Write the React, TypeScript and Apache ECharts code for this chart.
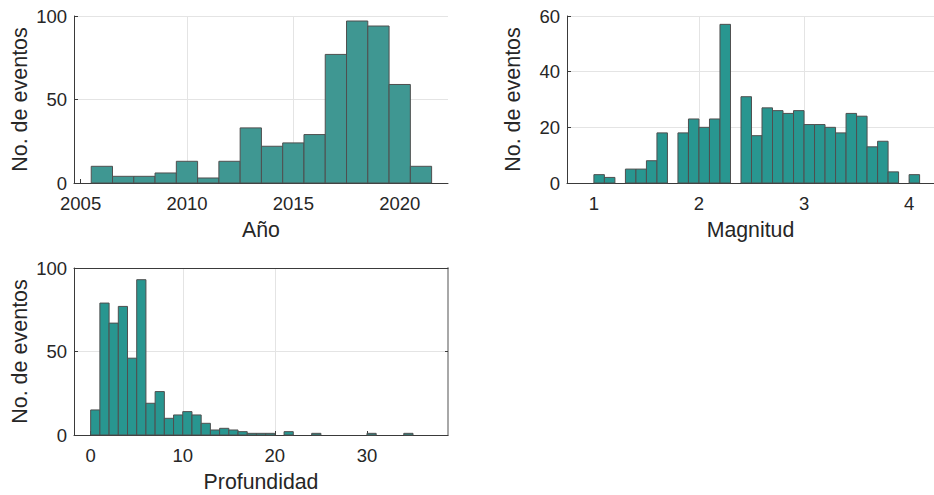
import React, { useEffect, useRef } from "react";
import * as echarts from "echarts";

// Año histogram (bin width 1, left edges)
const yearBinLeft = [2005.5, 2006.5, 2007.5, 2008.5, 2009.5, 2010.5, 2011.5, 2012.5, 2013.5, 2014.5, 2015.5, 2016.5, 2017.5, 2018.5, 2019.5, 2020.5];
const yearCounts = [10, 4, 4, 6, 13, 3, 13, 33, 22, 24, 29, 77, 97, 94, 59, 10];
const yearBinWidth = 1;

// Magnitud histogram (bin width 0.1, left edges)
const magBinLeft = [1.0, 1.1, 1.2, 1.3, 1.4, 1.5, 1.6, 1.7, 1.8, 1.9, 2.0, 2.1, 2.2, 2.3, 2.4, 2.5, 2.6, 2.7, 2.8, 2.9, 3.0, 3.1, 3.2, 3.3, 3.4, 3.5, 3.6, 3.7, 3.8, 3.9, 4.0];
const magCounts = [3, 2, 0, 5, 5, 8, 18, 0, 18, 23, 20, 23, 57, 0, 31, 17, 27, 26, 25, 26, 21, 21, 20, 18, 25, 24, 13, 15, 4, 0, 3];
const magBinWidth = 0.1;

// Profundidad histogram (bin width 1, left edges)
const depthBinLeft = [0, 1, 2, 3, 4, 5, 6, 7, 8, 9, 10, 11, 12, 13, 14, 15, 16, 17, 18, 19, 20, 21, 22, 23, 24, 25, 26, 27, 28, 29, 30, 31, 32, 33, 34];
const depthCounts = [15, 79, 67, 77, 46, 93, 19, 26, 10, 12, 14, 12, 7, 3, 4, 3, 2, 1, 1, 1, 0, 2, 0, 0, 1, 0, 0, 0, 0, 0, 1, 0, 0, 0, 1];
const depthBinWidth = 1;

// Tick labels
const yearTicks = [2005, 2010, 2015, 2020];
const magTicks = [1, 2, 3, 4];
const depthTicks = [0, 10, 20, 30];

const FONT = "'Liberation Sans', Arial, Helvetica, sans-serif";
const TXT = "#262626";
const AX = "#3a3a3a";
const GRIDC = "#e4e4e4";

function binsData(left: number[], counts: number[], w: number) {
  const out: number[][] = [];
  left.forEach((l, i) => {
    if (counts[i] > 0) out.push([l, l + w, counts[i]]);
  });
  return out;
}

function histSeries(idx: number, data: number[][], fill: string) {
  return {
    type: "custom",
    xAxisIndex: idx,
    yAxisIndex: idx,
    encode: { x: [0, 1], y: 2 },
    data,
    renderItem: (params: any, api: any) => {
      const p0 = api.coord([api.value(0), 0]);
      const p1 = api.coord([api.value(1), api.value(2)]);
      return {
        type: "rect",
        shape: { x: p0[0], y: p1[1], width: p1[0] - p0[0], height: p0[1] - p1[1] },
        style: { fill, stroke: "#4f4f4f", lineWidth: 1 },
      };
    },
  };
}

function xAxisCfg(idx: number, min: number, max: number, step: number, ticks: number[], name: string) {
  return {
    type: "value",
    gridIndex: idx,
    min,
    max,
    minInterval: step,
    maxInterval: step,
    name,
    nameLocation: "middle",
    nameGap: 36,
    nameTextStyle: { color: TXT, fontSize: 21.3, fontFamily: FONT },
    axisLine: { show: true, onZero: false, lineStyle: { color: AX, width: 1 } },
    axisTick: { show: true, inside: true, length: 4, customValues: ticks, lineStyle: { color: AX } },
    axisLabel: {
      color: TXT,
      fontSize: 18.5,
      fontFamily: FONT,
      margin: 11,
      customValues: ticks,
      formatter: (v: number) => String(v),
    },
    splitLine: { show: true, showMinLine: false, showMaxLine: false, lineStyle: { color: GRIDC, width: 1 } },
  };
}

function yAxisCfg(idx: number, max: number, step: number) {
  return {
    type: "value",
    gridIndex: idx,
    min: 0,
    max,
    interval: step,
    name: "No. de eventos",
    nameLocation: "middle",
    nameGap: 43,
    nameRotate: 90,
    nameTextStyle: { color: TXT, fontSize: 21.5, fontFamily: FONT },
    axisLine: { show: true, onZero: false, lineStyle: { color: AX, width: 1 } },
    axisTick: { show: true, inside: true, length: 4, lineStyle: { color: AX } },
    axisLabel: { color: TXT, fontSize: 18.5, fontFamily: FONT, margin: 7 },
    splitLine: { show: true, lineStyle: { color: GRIDC, width: 1 } },
  };
}

export default function App() {
  const ref = useRef<HTMLDivElement>(null);
  useEffect(() => {
    document.body.style.margin = "0";
    if (!ref.current) return;
    const chart = echarts.init(ref.current, null, { renderer: "svg" });
    const option: any = {
      animation: false,
      backgroundColor: "#ffffff",
      grid: [
        { left: 74, top: 16, width: 374, height: 167 },
        { left: 567, top: 16, width: 372, height: 167 },
        { left: 74, top: 268, width: 374, height: 167 },
      ],
      xAxis: [
        xAxisCfg(0, 2004.69, 2022.27, 5, yearTicks, "Año"),
        xAxisCfg(1, 0.744, 4.237, 1, magTicks, "Magnitud"),
        xAxisCfg(2, -1.81, 38.8, 10, depthTicks, "Profundidad"),
        {
          type: "value",
          gridIndex: 2,
          position: "top",
          min: -1.81,
          max: 38.8,
          axisLine: { show: true, onZero: false, lineStyle: { color: AX, width: 1 } },
          axisTick: { show: false },
          axisLabel: { show: false },
          splitLine: { show: false },
        },
      ],
      yAxis: [
        yAxisCfg(0, 100, 50),
        yAxisCfg(1, 60, 20),
        yAxisCfg(2, 100, 50),
        {
          type: "value",
          gridIndex: 2,
          position: "right",
          min: 0,
          max: 100,
          interval: 50,
          axisLine: { show: true, onZero: false, lineStyle: { color: "#a8a8a8", width: 2 } },
          axisTick: { show: true, inside: true, length: 3, lineStyle: { color: AX } },
          axisLabel: { show: false },
          splitLine: { show: false },
        },
      ],
      series: [
        histSeries(0, binsData(yearBinLeft, yearCounts, yearBinWidth), "#3f9792"),
        histSeries(1, binsData(magBinLeft, magCounts, magBinWidth), "#289690"),
        histSeries(2, binsData(depthBinLeft, depthCounts, depthBinWidth), "#289690"),
      ],
    };
    chart.setOption(option);
    return () => chart.dispose();
  }, []);
  return <div ref={ref} style={{ width: 934, height: 495 }} />;
}
